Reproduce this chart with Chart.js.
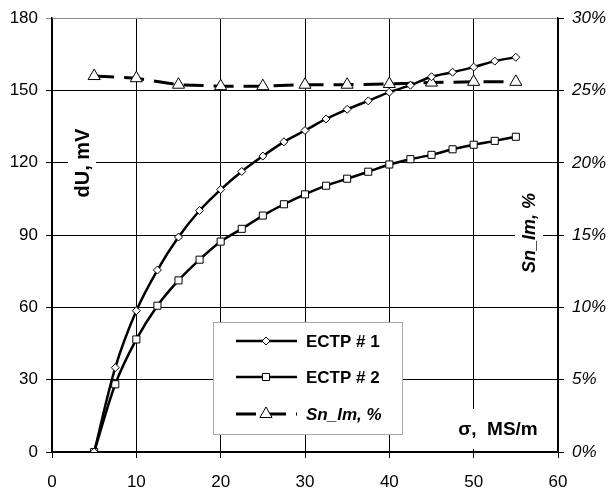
<!DOCTYPE html>
<html>
<head>
<meta charset="utf-8">
<title>dU and Sn_Im vs conductivity</title>
<script src="https://cdn.jsdelivr.net/npm/chart.js@4.4.1/dist/chart.umd.min.js"></script>
<style>
    html, body {
        margin: 0;
        padding: 0;
        background: #ffffff;
    }

    #wrap {
        width: 610px;
        height: 491px;
    }
</style>
</head>
<body>
<div id="wrap">
    <canvas id="chart" width="610" height="491"></canvas>
</div>

<script>
// ==========================================================
// DATA
// ==========================================================

const sigmaFine = [
    5, 7.5, 10, 12.5, 15, 17.5, 20, 22.5, 25, 27.5, 30,
    32.5, 35, 37.5, 40, 42.5, 45, 47.5, 50, 52.5, 55
];

const ectp1 = [
    0, 35, 58.6, 75.5, 89.2, 100.2, 108.9, 116.4, 122.8, 128.7, 133.4,
    138.2, 142.2, 145.7, 149.3, 152.2, 155.7, 157.6, 159.7, 162.2, 163.8
];

const ectp2 = [
    0, 28.1, 46.7, 60.7, 71.2, 79.8, 87.3, 92.6, 98.1, 102.8, 106.9,
    110.5, 113.4, 116.3, 119.3, 121.5, 123.3, 125.6, 127.5, 129.1, 130.8
];

const sigmaCoarse = [5, 10, 15, 20, 25, 30, 35, 40, 45, 50, 55];

const snIm = [
    26.0, 25.85, 25.4, 25.3, 25.3, 25.4, 25.4, 25.45, 25.55, 25.6, 25.6
];

const xTicks = [0, 10, 20, 30, 40, 50, 60];
const duTicks = [0, 30, 60, 90, 120, 150, 180];
const pctTicks = [0, 5, 10, 15, 20, 25, 30];

const seriesNames = ["ECTP # 1", "ECTP # 2", "Sn_Im, %"];

const FONT = "'Liberation Sans', Arial, sans-serif";

// ==========================================================
// HELPERS
// ==========================================================

function toPoints(xs, ys) {
    return xs.map((x, i) => ({ x: x, y: ys[i] }));
}

function drawBoxedText(ctx, text, cx, cy, font, rotate, padX, padY) {

    ctx.save();
    ctx.translate(cx, cy);

    if (rotate) {
        ctx.rotate(-Math.PI / 2);
    }

    ctx.font = font;

    const w = ctx.measureText(text).width;

    ctx.fillStyle = "#ffffff";
    ctx.fillRect(-w / 2 - padX, -10 - padY, w + padX * 2, 20 + padY * 2);

    ctx.fillStyle = "#000000";
    ctx.textAlign = "center";
    ctx.textBaseline = "middle";
    ctx.fillText(text, 0, 1);

    ctx.restore();
}

// ==========================================================
// AXIS TITLES (inside the plot area)
// ==========================================================

const axisTitles = {

    id: "axisTitles",

    beforeDatasetsDraw(chart) {

        const ctx = chart.ctx;

        drawBoxedText(ctx, "dU, mV", 82, 163,
            "bold 20px " + FONT, true, 6, 4);

        drawBoxedText(ctx, "Sn_Im, %", 529, 233,
            "italic bold 18px " + FONT, true, 6, 4);

        drawBoxedText(ctx, "σ,  MS/m", 498, 429,
            "bold 19px " + FONT, false, 4, 10);
    }
};

// ==========================================================
// LEGEND BOX
// ==========================================================

const legendBox = {

    id: "legendBox",

    afterDatasetsDraw(chart) {

        const ctx = chart.ctx;

        const left = 213, top = 322, right = 403, bottom = 435;

        ctx.save();

        ctx.fillStyle = "#ffffff";
        ctx.fillRect(left, top, right - left, bottom - top);

        ctx.strokeStyle = "#555555";
        ctx.lineWidth = 1;
        ctx.setLineDash([1, 1]);
        ctx.strokeRect(left + 0.5, top + 0.5, right - left - 1, bottom - top - 1);

        const rows = [341, 377, 414];

        chart.data.datasets.forEach((ds, i) => {

            const y = rows[i];

            ctx.strokeStyle = "#000000";
            ctx.lineWidth = ds.borderWidth;
            ctx.setLineDash(ds.borderDash || []);
            ctx.beginPath();
            ctx.moveTo(236, y);
            ctx.lineTo(297, y);
            ctx.stroke();

            ctx.setLineDash([]);
            ctx.lineWidth = 1;
            ctx.fillStyle = "#ffffff";

            Chart.helpers.drawPoint(ctx, {
                pointStyle: ds.pointStyle,
                radius: ds.pointRadius,
                rotation: 0,
                borderWidth: 1
            }, 266, y);

            ctx.fillStyle = "#000000";
            ctx.font = (i === 2 ? "italic " : "") + "bold 17px " + FONT;
            ctx.textAlign = "left";
            ctx.textBaseline = "middle";
            ctx.fillText(ds.label, 306, y + 1);
        });

        ctx.restore();
    }
};

// ==========================================================
// CHART
// ==========================================================

const tickFont = { family: FONT, size: 17 };

new Chart(document.getElementById("chart").getContext("2d"), {

    type: "line",

    data: {

        datasets: [

            {
                label: seriesNames[0],
                data: toPoints(sigmaFine, ectp1),
                yAxisID: "y",
                borderColor: "#000000",
                borderWidth: 2.5,
                tension: 0.3,
                pointStyle: "rectRot",
                pointRadius: 4,
                pointBackgroundColor: "#ffffff",
                pointBorderColor: "#000000",
                pointBorderWidth: 1
            },

            {
                label: seriesNames[1],
                data: toPoints(sigmaFine, ectp2),
                yAxisID: "y",
                borderColor: "#000000",
                borderWidth: 2.5,
                tension: 0.3,
                pointStyle: "rect",
                pointRadius: 5,
                pointBackgroundColor: "#ffffff",
                pointBorderColor: "#000000",
                pointBorderWidth: 1
            },

            {
                label: seriesNames[2],
                data: toPoints(sigmaCoarse, snIm),
                yAxisID: "y1",
                borderColor: "#000000",
                borderWidth: 3,
                borderDash: [20, 10],
                tension: 0,
                pointStyle: "triangle",
                pointRadius: 7,
                pointBackgroundColor: "#ffffff",
                pointBorderColor: "#000000",
                pointBorderWidth: 1
            }
        ]
    },

    options: {

        responsive: false,
        animation: false,
        events: [],

        layout: {
            padding: { top: 16, left: 0, right: 0, bottom: 0 }
        },

        plugins: {
            legend: { display: false },
            tooltip: { enabled: false }
        },

        scales: {

            x: {
                type: "linear",
                min: 0,
                max: 60,
                afterBuildTicks: scale => {
                    scale.ticks = xTicks.map(v => ({ value: v }));
                },
                afterFit: scale => { scale.height = 39; },
                ticks: {
                    font: tickFont,
                    color: "#000000",
                    padding: 14,
                    maxRotation: 0
                },
                grid: {
                    color: "#000000",
                    lineWidth: 1,
                    tickLength: 6
                },
                border: { color: "#000000", width: 1.5 }
            },

            y: {
                position: "left",
                min: 0,
                max: 180,
                afterBuildTicks: scale => {
                    scale.ticks = duTicks.map(v => ({ value: v }));
                },
                afterFit: scale => { scale.width = 52; },
                ticks: {
                    font: tickFont,
                    color: "#000000",
                    padding: 8
                },
                grid: {
                    color: c => (c.tick && c.tick.value === 180) ? "#8a8a8a" : "#000000",
                    lineWidth: 1,
                    tickLength: 6
                },
                border: { color: "#000000", width: 1.5 }
            },

            y1: {
                position: "right",
                min: 0,
                max: 30,
                afterBuildTicks: scale => {
                    scale.ticks = pctTicks.map(v => ({ value: v }));
                },
                afterFit: scale => { scale.width = 52; },
                ticks: {
                    font: { family: FONT, size: 17, style: "italic" },
                    color: "#000000",
                    padding: 8,
                    callback: v => v + "%"
                },
                grid: {
                    drawOnChartArea: false,
                    color: "#000000",
                    tickLength: 6
                },
                border: { color: "#000000", width: 1.5 }
            }
        }
    },

    plugins: [axisTitles, legendBox]
});
</script>
</body>
</html>
